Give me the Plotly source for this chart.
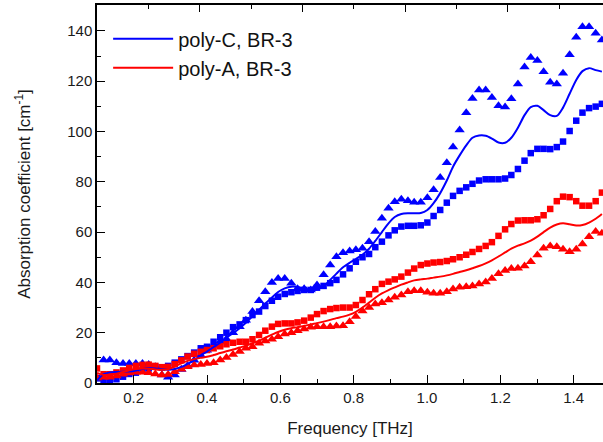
import plotly.graph_objects as go

freq = [0.100, 0.118, 0.135, 0.153, 0.171, 0.188, 0.206, 0.224, 0.241, 0.259,
        0.277, 0.294, 0.312, 0.330, 0.347, 0.365, 0.383, 0.400, 0.418, 0.436,
        0.453, 0.471, 0.489, 0.506, 0.524, 0.542, 0.559, 0.577, 0.594, 0.612,
        0.630, 0.647, 0.665, 0.683, 0.700, 0.718, 0.736, 0.753, 0.771, 0.789,
        0.806, 0.824, 0.842, 0.859, 0.877, 0.895, 0.912, 0.930, 0.948, 0.965,
        0.983, 1.001, 1.018, 1.036, 1.054, 1.071, 1.089, 1.107, 1.124, 1.142,
        1.160, 1.177, 1.195, 1.213, 1.230, 1.248, 1.266, 1.283, 1.301, 1.318,
        1.336, 1.354, 1.371, 1.389, 1.407, 1.424, 1.442, 1.460, 1.477]

polyC_upper = [1.5, 9.1, 9.1, 8.1, 7.8, 7.8, 7.8, 7.8, 7.4, 6.5,
               3.2, 2.3, 3.2, 5.4, 7.0, 9.0, 11.0, 13.0, 15.0, 16.5,
               17.5, 20.0, 22.4, 25.0, 28.4, 32.7, 36.3, 40.0, 41.6, 41.6,
               39.7, 37.5, 37.5, 37.0, 39.0, 43.0, 46.9, 50.2, 51.8, 52.5,
               53.0, 53.6, 56.2, 60.2, 65.5, 69.5, 72.1, 73.1, 72.5, 71.9,
               71.9, 73.7, 76.8, 81.7, 87.6, 93.8, 100.6, 107.5, 113.1, 116.5,
               116.5, 113.5, 110.2, 109.7, 113.0, 118.9, 125.6, 129.4, 128.2, 123.8,
               119.6, 118.9, 123.2, 130.5, 137.5, 141.7, 141.7, 139.1, 136.4]

polyC_line = [1.0, 3.5, 4.2, 4.4, 4.5, 4.6, 5.0, 5.6, 5.9, 5.8,
              5.5, 5.3, 5.6, 6.4, 7.6, 9.0, 11.0, 12.5, 14.3, 16.0,
              18.0, 19.8, 21.8, 24.0, 26.5, 29.0, 31.6, 34.0, 36.2, 37.6,
              38.3, 38.2, 37.6, 37.1, 37.3, 38.5, 41.0, 43.5, 46.0, 47.8,
              49.3, 51.0, 53.4, 56.5, 60.0, 63.5, 66.0, 67.2, 67.5, 67.5,
              67.6, 68.8, 71.5, 75.5, 80.5, 86.0, 90.5, 94.5, 97.5, 98.4,
              98.3, 97.2, 95.6, 95.5, 97.5, 101.5, 106.5, 109.7, 110.2, 108.5,
              106.5, 106.2, 109.5, 115.0, 120.5, 124.0, 125.2, 124.4, 123.8]

polyC_lower = [2.0, 0.5, 0.4, 1.5, 2.5, 3.6, 4.1, 5.0, 5.8, 6.5,
               6.2, 6.8, 8.1, 9.4, 10.7, 12.1, 13.8, 14.4, 16.4, 18.2,
               20.0, 22.2, 23.3, 25.0, 27.0, 28.4, 30.6, 32.7, 34.3, 35.4,
               36.1, 36.6, 37.0, 37.0, 37.9, 38.6, 39.7, 41.0, 43.2, 45.6,
               48.2, 50.0, 51.3, 54.0, 56.2, 58.7, 60.7, 62.2, 62.5, 62.5,
               62.7, 63.8, 66.4, 68.8, 71.7, 74.4, 76.4, 77.8, 79.2, 80.5,
               81.0, 81.0, 81.0, 81.3, 82.7, 85.1, 88.4, 91.4, 93.1, 93.1,
               93.0, 93.8, 96.0, 100.2, 104.3, 107.5, 109.3, 109.9, 111.0]

polyA_upper = [5.8, 3.5, 3.5, 4.2, 5.0, 6.0, 6.8, 7.2, 7.3, 6.8,
               6.3, 6.4, 7.5, 9.0, 10.5, 11.6, 12.4, 13.1, 13.8, 14.6,
               15.4, 16.0, 16.4, 16.4, 17.4, 19.1, 20.8, 22.4, 23.5, 23.7,
               23.7, 24.1, 24.8, 26.0, 27.4, 28.6, 29.4, 29.8, 30.0, 30.0,
               31.0, 33.0, 35.3, 37.3, 39.4, 40.3, 41.2, 42.3, 43.9, 45.5,
               46.9, 47.5, 47.9, 48.1, 48.5, 49.2, 50.0, 51.0, 52.1, 53.3,
               54.5, 56.0, 58.5, 61.1, 63.2, 64.6, 64.7, 64.7, 65.1, 66.7,
               69.2, 72.3, 74.1, 73.9, 72.3, 70.5, 70.5, 72.3, 75.7]

polyA_line = [4.0, 3.2, 3.4, 3.7, 4.4, 5.1, 5.6, 5.8, 5.7, 5.4,
              5.3, 5.5, 6.5, 7.8, 8.8, 9.5, 10.0, 10.4, 11.1, 11.9,
              12.6, 13.3, 14.1, 14.8, 15.8, 16.8, 18.0, 19.2, 20.3, 21.2,
              21.8, 22.2, 22.7, 23.3, 23.8, 24.4, 25.1, 25.8, 26.4, 27.2,
              28.3, 30.0, 32.0, 33.9, 35.6, 36.9, 38.0, 39.1, 40.0, 40.8,
              41.2, 41.5, 41.9, 42.3, 42.8, 43.4, 44.1, 44.8, 45.6, 46.5,
              47.6, 48.8, 50.3, 51.9, 53.4, 54.6, 55.5, 56.6, 58.2, 60.0,
              61.8, 63.0, 63.5, 63.1, 62.6, 62.8, 63.8, 65.3, 67.2]

polyA_lower = [2.0, 2.3, 2.3, 2.8, 3.5, 4.0, 4.3, 4.3, 4.1, 3.6,
               3.2, 3.4, 4.5, 5.5, 6.5, 7.2, 7.4, 7.8, 8.1, 9.1,
               10.1, 11.3, 12.5, 13.8, 14.4, 15.8, 16.7, 17.4, 18.4, 19.5,
               20.0, 20.8, 21.5, 22.2, 22.4, 22.4, 22.4, 22.7, 22.8, 24.4,
               26.4, 28.6, 30.0, 31.4, 31.9, 33.0, 34.1, 35.0, 36.3, 36.7,
               36.7, 36.1, 35.7, 35.7, 36.3, 37.4, 38.1, 38.3, 38.6, 39.4,
               40.2, 41.6, 43.4, 44.7, 45.5, 45.6, 46.5, 48.2, 50.9, 53.6,
               54.5, 54.2, 53.2, 52.2, 53.2, 55.3, 58.2, 60.2, 59.5]

legend_names = ["poly-C, BR-3", "poly-A, BR-3"]
x_ticks = [0.2, 0.4, 0.6, 0.8, 1.0, 1.2, 1.4]
y_ticks = [0, 20, 40, 60, 80, 100, 120, 140]

BLUE = "#0000FF"
RED = "#FF0000"
FONT = "Arial, Liberation Sans, sans-serif"

fig = go.Figure()

fig.add_trace(go.Scatter(x=freq, y=polyC_upper, mode="markers", showlegend=False,
                         marker=dict(symbol="triangle-up", size=9, color=BLUE)))
fig.add_trace(go.Scatter(x=freq, y=polyC_lower, mode="markers", showlegend=False,
                         marker=dict(symbol="square", size=6.5, color=BLUE)))
fig.add_trace(go.Scatter(x=freq, y=polyA_upper, mode="markers", showlegend=False,
                         marker=dict(symbol="square", size=6.5, color=RED)))
fig.add_trace(go.Scatter(x=freq, y=polyA_lower, mode="markers", showlegend=False,
                         marker=dict(symbol="triangle-up", size=9, color=RED)))
fig.add_trace(go.Scatter(x=freq, y=polyC_line, mode="lines", name=legend_names[0],
                         line=dict(color=BLUE, width=2, shape="spline", smoothing=0.8)))
fig.add_trace(go.Scatter(x=freq, y=polyA_line, mode="lines", name=legend_names[1],
                         line=dict(color=RED, width=2, shape="spline", smoothing=0.8)))
fig.add_trace(go.Scatter(x=[0], y=[0], xaxis="x2", mode="markers", showlegend=False,
                         marker=dict(opacity=0), hoverinfo="skip"))

fig.update_layout(
    width=603, height=442,
    margin=dict(l=97, r=0, t=5, b=59, autoexpand=False),
    paper_bgcolor="white", plot_bgcolor="white",
    font=dict(family=FONT, color="#1a1a1a", size=15),
    showlegend=True,
    legend=dict(x=0.022, y=0.962, xanchor="left", yanchor="top",
                bgcolor="rgba(0,0,0,0)", font=dict(size=20, family=FONT, color="#111"),
                itemwidth=60, tracegroupgap=0),
    xaxis=dict(range=[0.1, 1.48], tickvals=x_ticks, ticktext=[f"{v:.1f}" for v in x_ticks],
               automargin=False,
               ticks="inside", ticklen=8, tickwidth=1.2, tickcolor="black",
               showline=True, linecolor="black", linewidth=1.5, showgrid=False, zeroline=False,
               minor=dict(ticks="inside", dtick=0.1, tick0=0, ticklen=4, tickwidth=1.2, tickcolor="black", showgrid=False),
               tickfont=dict(size=15),
               title=dict(text="Frequency [THz]", font=dict(size=17), standoff=17)),
    yaxis=dict(range=[0, 150.3], tickvals=y_ticks, automargin=False,
               ticks="inside", ticklen=8, tickwidth=1.2, tickcolor="black",
               showline=True, linecolor="black", linewidth=1.5, showgrid=False, zeroline=False,
               minor=dict(ticks="inside", dtick=10, tick0=0, ticklen=4, tickwidth=1.2, tickcolor="black", showgrid=False),
               tickfont=dict(size=15),
               title=dict(text="Absorption coefficient [cm<sup>-1</sup>]", font=dict(size=17), standoff=32)),
    xaxis2=dict(overlaying="x", side="top", range=[0, 9.857], dtick=2, tick0=0, automargin=False,
                ticks="inside", ticklen=7, tickwidth=1.2, tickcolor="black",
                showticklabels=False, showline=True, linecolor="black", linewidth=1.5,
                showgrid=False, zeroline=False,
                minor=dict(ticks="inside", dtick=1, ticklen=4, tickwidth=1.2, tickcolor="black", showgrid=False)),
)

fig.write_html("out.html", config={"displayModeBar": False},
               post_script="document.body.style.margin='0';document.body.style.overflow='hidden';")
